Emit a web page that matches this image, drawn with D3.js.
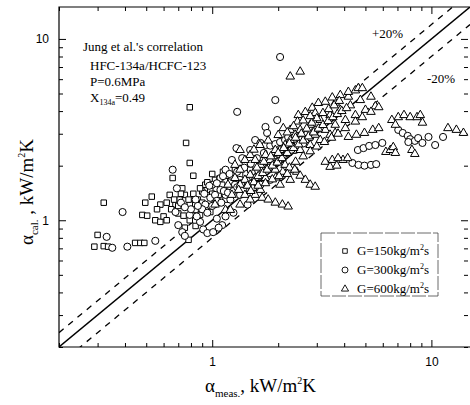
<!DOCTYPE html>
<html>
<head>
<meta charset="utf-8">
<script src="https://cdn.jsdelivr.net/npm/d3@7"></script>
<style>
  body { margin: 0; background: #fff; }
  svg { display: block; }
</style>
</head>
<body>
<div id="chart"></div>
<script>
// Measured vs. calculated heat transfer coefficient, kW/m2K
const g150 = [
  [0.30,0.83],[0.32,0.72],[0.335,0.715],[0.29,0.715],[0.445,0.75],[0.47,0.75],[0.49,0.75],
  [0.32,1.25],[0.495,1.25],[0.48,1.07],[0.505,1.06],[0.55,1.0],[0.62,1.25],[0.79,4.2],
  [0.76,2.67],[0.79,2.07],[0.66,1.71],[0.70,1.09],[0.74,1.06],[0.78,0.78],[0.58,0.98],
  [0.53,1.35],[0.58,1.22],[0.68,1.22],[0.71,1.30],[0.75,1.38],[0.79,1.22],[0.84,1.14],
  [0.86,1.30],[0.90,1.44],[0.93,1.57],[0.98,1.47],[1.03,1.67],[1.07,1.38],[1.11,1.57],
  [1.16,1.76],[1.21,1.63],[1.27,1.90],[1.34,1.78],[1.41,2.02],[0.88,1.07],[0.98,1.11],
  [0.79,1.0],[0.75,0.91],[0.84,0.93],[1.02,1.22],[1.15,1.30],[0.64,1.38],[0.73,1.50],
  [1.49,1.90],[0.82,1.76],[0.6,1.05],[0.65,1.15],[0.7,1.2],[0.78,1.3],[0.82,1.4],
  [0.88,1.5],[0.95,1.62],[1.0,1.8],[1.08,1.7],[1.12,1.85],[0.72,1.4],[0.67,1.3],
  [0.56,1.15],[0.62,1.0],[0.9,1.25],[1.0,1.4]
];
const g300 = [
  [2.04,7.95],[1.94,4.6],[1.30,3.96],[1.98,3.57],[1.75,3.27],[1.78,3.03],[0.33,0.81],
  [0.35,0.705],[0.41,0.715],[0.55,0.77],[0.39,1.11],[0.66,1.90],[1.57,2.77],[1.66,2.67],
  [1.75,2.60],[1.84,2.58],[1.94,2.63],[2.04,2.70],[2.15,2.77],[2.22,2.88],[0.68,1.11],
  [0.70,0.94],[0.73,0.86],[0.75,0.82],[0.88,0.98],[0.91,0.89],[0.95,0.85],[1.01,0.86],
  [1.11,0.94],[1.07,0.91],[0.79,1.07],[0.84,1.30],[0.93,1.22],[0.98,1.33],[1.03,1.38],
  [1.09,1.47],[1.15,1.38],[1.21,1.51],[1.27,1.57],[1.34,1.67],[1.41,1.57],[1.49,1.71],
  [1.57,1.85],[1.66,1.78],[1.75,1.95],[1.84,2.02],[1.94,2.15],[2.04,2.29],[2.15,2.44],
  [2.27,2.60],[2.39,2.44],[2.52,2.77],[2.66,2.96],[2.80,2.86],[2.95,3.15],[3.11,3.22],
  [1.34,1.38],[1.49,1.47],[1.21,1.30],[1.66,1.57],[1.84,1.67],[2.04,1.78],
  [4.62,2.44],[4.9,2.5],[5.2,2.57],[5.55,2.6],[5.97,2.67],[4.36,2.07],[4.65,2.02],
  [4.95,2.0],[5.3,2.02],[5.6,2.04],[7.06,3.15],[7.4,3.03],[7.8,2.92],[8.0,2.8],
  [8.4,2.74],[8.7,2.84],[9.7,2.88],[10.4,2.6],[11.3,2.88],[7.85,2.7],[9.1,2.67],
  [1.15,1.9],[1.23,2.15],[1.37,2.2],[1.29,2.5],[1.49,2.44],[1.09,1.71],[1.0,1.57],[0.69,1.5],
  [0.85,1.05],[0.9,1.15],[0.95,1.1],[1.0,1.2],[1.05,1.28],[1.1,1.25],[1.13,1.45],[1.18,1.42],
  [1.25,1.45],[1.3,1.52],[1.36,1.6],[1.44,1.65],[1.52,1.6],[1.58,1.7],[1.62,1.88],[1.7,1.9],
  [1.8,1.95],[1.9,2.05],[2.0,2.12],[2.1,2.25],[2.2,2.35],[2.3,2.45],[2.45,2.6],[2.6,2.65],
  [0.92,1.4],[0.97,1.55],[1.05,1.6],[1.12,1.75],[1.2,1.8],[1.3,1.85],[1.4,1.95],[1.5,2.05],
  [1.6,2.2],[1.72,2.35],[0.8,1.15],[0.86,1.2],[0.72,1.25],[0.75,1.18],[1.05,1.02],[1.15,1.05],
  [1.25,1.1],[1.45,1.22]
];
const g600 = [
  [2.27,6.2],[2.52,6.6],[2.11,3.22],[2.47,3.8],[2.45,3.5],[2.66,3.95],[2.86,4.17],
  [2.95,3.9],[3.05,4.43],[3.28,4.5],[3.64,4.45],[3.53,4.75],[3.84,4.9],[4.18,4.8],
  [4.18,5.1],[4.5,5.2],[4.64,5.35],[4.84,5.35],[2.52,3.15],[2.80,3.36],[3.11,3.57],
  [3.45,3.8],[3.84,4.06],[4.27,4.3],[4.74,4.6],[5.3,4.8],[2.66,2.77],[2.95,2.96],
  [3.28,3.15],[3.64,3.36],[4.05,3.57],[4.5,3.8],[5.0,4.06],[5.55,4.25],[2.27,2.77],
  [2.04,2.44],[1.84,2.15],[1.66,2.02],[1.49,1.78],[1.41,1.67],[1.34,1.57],[2.27,3.15],
  [2.52,2.44],[2.80,2.60],[3.11,2.77],[3.45,2.96],[3.64,3.03],[4.05,3.22],[4.5,3.5],
  [4.84,3.7],[5.3,3.96],[5.75,4.2],[4.18,2.88],[4.55,2.96],[4.95,3.03],[5.4,3.15],
  [5.75,3.22],[3.95,2.15],[4.15,2.2],[3.28,2.1],[3.53,2.15],[3.75,2.2],[3.45,1.97],
  [3.7,2.0],[6.2,2.38],[6.5,2.44],[6.7,2.53],[6.6,3.57],[7.06,3.7],[7.5,3.8],[8.0,3.7],
  [8.6,3.7],[8.9,3.8],[9.1,3.45],[6.85,3.36],[6.85,2.35],[8.15,2.44],[8.4,2.32],
  [11.9,3.22],[13.0,3.15],[14.0,3.03],[2.32,1.97],[2.43,1.85],[2.52,1.76],[2.66,1.67],
  [2.80,1.57],[2.95,1.53],[1.57,1.38],[1.69,1.33],[1.80,1.30],[1.94,1.25],[2.09,1.22],
  [2.22,1.19],[1.03,1.22],[1.15,1.14],[1.23,1.38],[1.32,1.47],[1.41,1.38],[1.53,1.51],
  [1.21,1.14],[1.34,1.22],[1.49,1.30],[1.66,1.47],[1.18,1.57],[1.27,1.71],[1.57,1.71],
  [1.75,1.71],[1.94,1.90],[2.15,2.02],[2.04,1.57],[2.27,1.67],[1.34,2.44],[1.41,2.15],
  [1.49,2.29],[1.27,2.02],[1.34,1.90],[1.57,2.15],[1.75,2.29],[1.94,2.44],[2.15,2.60],
  [2.39,2.96],
  [1.45,1.55],[1.55,1.62],[1.62,1.75],[1.7,1.82],[1.78,1.9],[1.88,2.0],[1.98,2.08],[2.08,2.2],
  [2.2,2.35],[2.35,2.5],[2.48,2.62],[2.6,2.75],[2.75,2.9],[2.9,3.05],[3.05,3.2],[3.2,3.35],
  [3.38,3.52],[3.55,3.7],[3.72,3.85],[3.9,4.0],[4.1,4.15],[1.6,1.95],[1.72,2.1],[1.85,2.25],
  [2.0,2.35],[2.12,2.5],[2.25,2.65],[2.4,2.85],[2.55,3.0],[2.7,3.2],[2.85,3.45],[3.0,3.65],
  [3.2,3.9],[3.4,4.1],[3.6,4.3],[3.8,4.55],[1.95,1.72],[2.1,1.85],[2.25,1.95],[2.4,2.1],
  [2.6,2.25],[2.8,2.4],[3.0,2.55],[3.25,2.7],[3.5,2.85],[3.75,3.0],[1.5,1.45],[1.62,1.55],
  [1.75,1.6],[1.88,1.68],[2.02,1.75],[2.2,1.8],[2.38,1.9],[1.55,2.45],[1.65,2.6],[1.8,2.75],
  [2.0,2.95],[2.2,3.05],[2.35,3.3],[2.6,3.55],[2.8,3.75]
];
const majorTicks = [1, 10];
const minorTicks = [0.2,0.3,0.4,0.5,0.6,0.7,0.8,0.9,2,3,4,5,6,7,8,9];
const domain = [0.2, 15];
const bandFactors = [1.2, 0.8];

const W = 470, H = 405;
const m = { left: 59, top: 7, right: 0, bottom: 58 };
const pw = W - m.left - m.right, ph = H - m.top - m.bottom;

const svg = d3.select("#chart").append("svg").attr("width", W).attr("height", H);
const g = svg.append("g").attr("transform", `translate(${m.left},${m.top})`);

const x = d3.scaleLog().domain(domain).range([0, pw]);
const y = d3.scaleLog().domain(domain).range([ph, 0]);

svg.append("defs").append("clipPath").attr("id", "clip")
  .append("rect").attr("width", pw).attr("height", ph);

// frame: left, top, bottom (right edge falls off the scan)
g.append("path").attr("d", `M${pw},0H0V${ph}H${pw}`)
  .attr("fill", "none").attr("stroke", "#000").attr("stroke-width", 1.2);

// ticks, all pointing inward
function ticks(axisFn, sel, values, size, labels) {
  const a = axisFn.tickValues(values).tickSize(-size).tickPadding(labels ? 10 : 0)
    .tickFormat(labels ? d3.format("d") : "");
  sel.call(a);
  sel.select(".domain").remove();
  sel.selectAll("line").attr("stroke", "#000").attr("stroke-width", 1);
  sel.selectAll("text").attr("font-family", "Liberation Sans, Arial, sans-serif")
    .attr("font-size", 12).attr("fill", "#000");
}
const gb = g.append("g").attr("transform", `translate(0,${ph})`);
ticks(d3.axisBottom(x), gb.append("g"), minorTicks, 4, false);
ticks(d3.axisBottom(x), gb.append("g"), majorTicks, 7, true);
const gt = g.append("g");
ticks(d3.axisTop(x), gt.append("g"), minorTicks, 4, false);
ticks(d3.axisTop(x), gt.append("g"), majorTicks, 7, false);
const gl = g.append("g");
ticks(d3.axisLeft(y), gl.append("g"), minorTicks, 4, false);
ticks(d3.axisLeft(y), gl.append("g"), majorTicks, 7, true);
const gr = g.append("g").attr("transform", `translate(${pw - 2},0)`);
ticks(d3.axisRight(y), gr.append("g"), minorTicks, 4, false);
ticks(d3.axisRight(y), gr.append("g"), majorTicks, 7, false);

// reference lines
const marks = g.append("g").attr("clip-path", "url(#clip)");
const line = d3.line().x(d => x(d[0])).y(d => y(d[1]));
marks.append("path").datum(domain.map(v => [v, v])).attr("d", line)
  .attr("fill", "none").attr("stroke", "#000").attr("stroke-width", 1.4);
bandFactors.forEach(f => {
  marks.append("path").datum([[domain[0], domain[0] * f], [domain[1], domain[1] * f]]).attr("d", line)
    .attr("fill", "none").attr("stroke", "#000").attr("stroke-width", 1.3)
    .attr("stroke-dasharray", "6,6");
});

// data points
const series = [
  { data: g150, type: d3.symbolSquare, size: 30 },
  { data: g300, type: d3.symbolCircle, size: 40 },
  { data: g600, type: d3.symbolTriangle, size: 32 }
];
series.forEach(s => {
  marks.append("g").selectAll("path").data(s.data).join("path")
    .attr("transform", d => `translate(${x(d[0])},${y(d[1])})`)
    .attr("d", d3.symbol(s.type, s.size))
    .attr("fill", "#fff").attr("stroke", "#000").attr("stroke-width", 1);
});

const serif = "Liberation Serif, Times New Roman, serif";

// annotation
const ann = svg.append("g").attr("font-family", serif).attr("font-size", 13).attr("fill", "#000");
ann.append("text").attr("x", 83).attr("y", 51).text("Jung et al.'s correlation");
ann.append("text").attr("x", 90).attr("y", 70).text("HFC-134a/HCFC-123");
ann.append("text").attr("x", 90).attr("y", 86).text("P=0.6MPa");
const xt = ann.append("text").attr("x", 90).attr("y", 102);
xt.append("tspan").text("X");
xt.append("tspan").attr("font-size", 8).attr("dy", 3).text("134a");
xt.append("tspan").attr("dy", -3).text("=0.49");

ann.append("text").attr("x", 372).attr("y", 38).text("+20%");
ann.append("text").attr("x", 427).attr("y", 83).text("-20%");

// legend
const lg = svg.append("g");
lg.append("rect").attr("x", 321).attr("y", 233).attr("width", 117).attr("height", 63)
  .attr("fill", "#fff").attr("stroke", "#444").attr("stroke-width", 0.8)
  .attr("stroke-dasharray", "14,2");
const legendLabels = ["G=150kg/m", "G=300kg/m", "G=600kg/m"];
series.forEach((s, i) => {
  const ly = 251 + i * 19;
  lg.append("path").attr("transform", `translate(345,${ly})`)
    .attr("d", d3.symbol(s.type, s.size * 0.7))
    .attr("fill", "#fff").attr("stroke", "#000").attr("stroke-width", 0.9);
  const t = lg.append("text").attr("x", 357).attr("y", ly + 4)
    .attr("font-family", serif).attr("font-size", 13);
  t.append("tspan").text(legendLabels[i]);
  t.append("tspan").attr("font-size", 8).attr("dy", -5).text("2");
  t.append("tspan").attr("dy", 5).text("s");
});

// axis titles
const xl = svg.append("text").attr("x", 205).attr("y", 392)
  .attr("font-family", serif).attr("font-size", 19);
xl.append("tspan").text("α");
xl.append("tspan").attr("font-size", 11).attr("dy", 5).text("meas.");
xl.append("tspan").attr("dy", -5).text(",  kW/m");
xl.append("tspan").attr("font-size", 10).attr("dy", -8).text("2");
xl.append("tspan").attr("dy", 8).text("K");

const yl = svg.append("text").attr("transform", "translate(33,245) rotate(-90)")
  .attr("font-family", serif).attr("font-size", 19);
yl.append("tspan").text("α");
yl.append("tspan").attr("font-size", 11).attr("dy", 5).text("cal.");
yl.append("tspan").attr("dy", -5).text(" , kW/m");
yl.append("tspan").attr("font-size", 10).attr("dy", -8).text("2");
yl.append("tspan").attr("dy", 8).text("K");
</script>
</body>
</html>
